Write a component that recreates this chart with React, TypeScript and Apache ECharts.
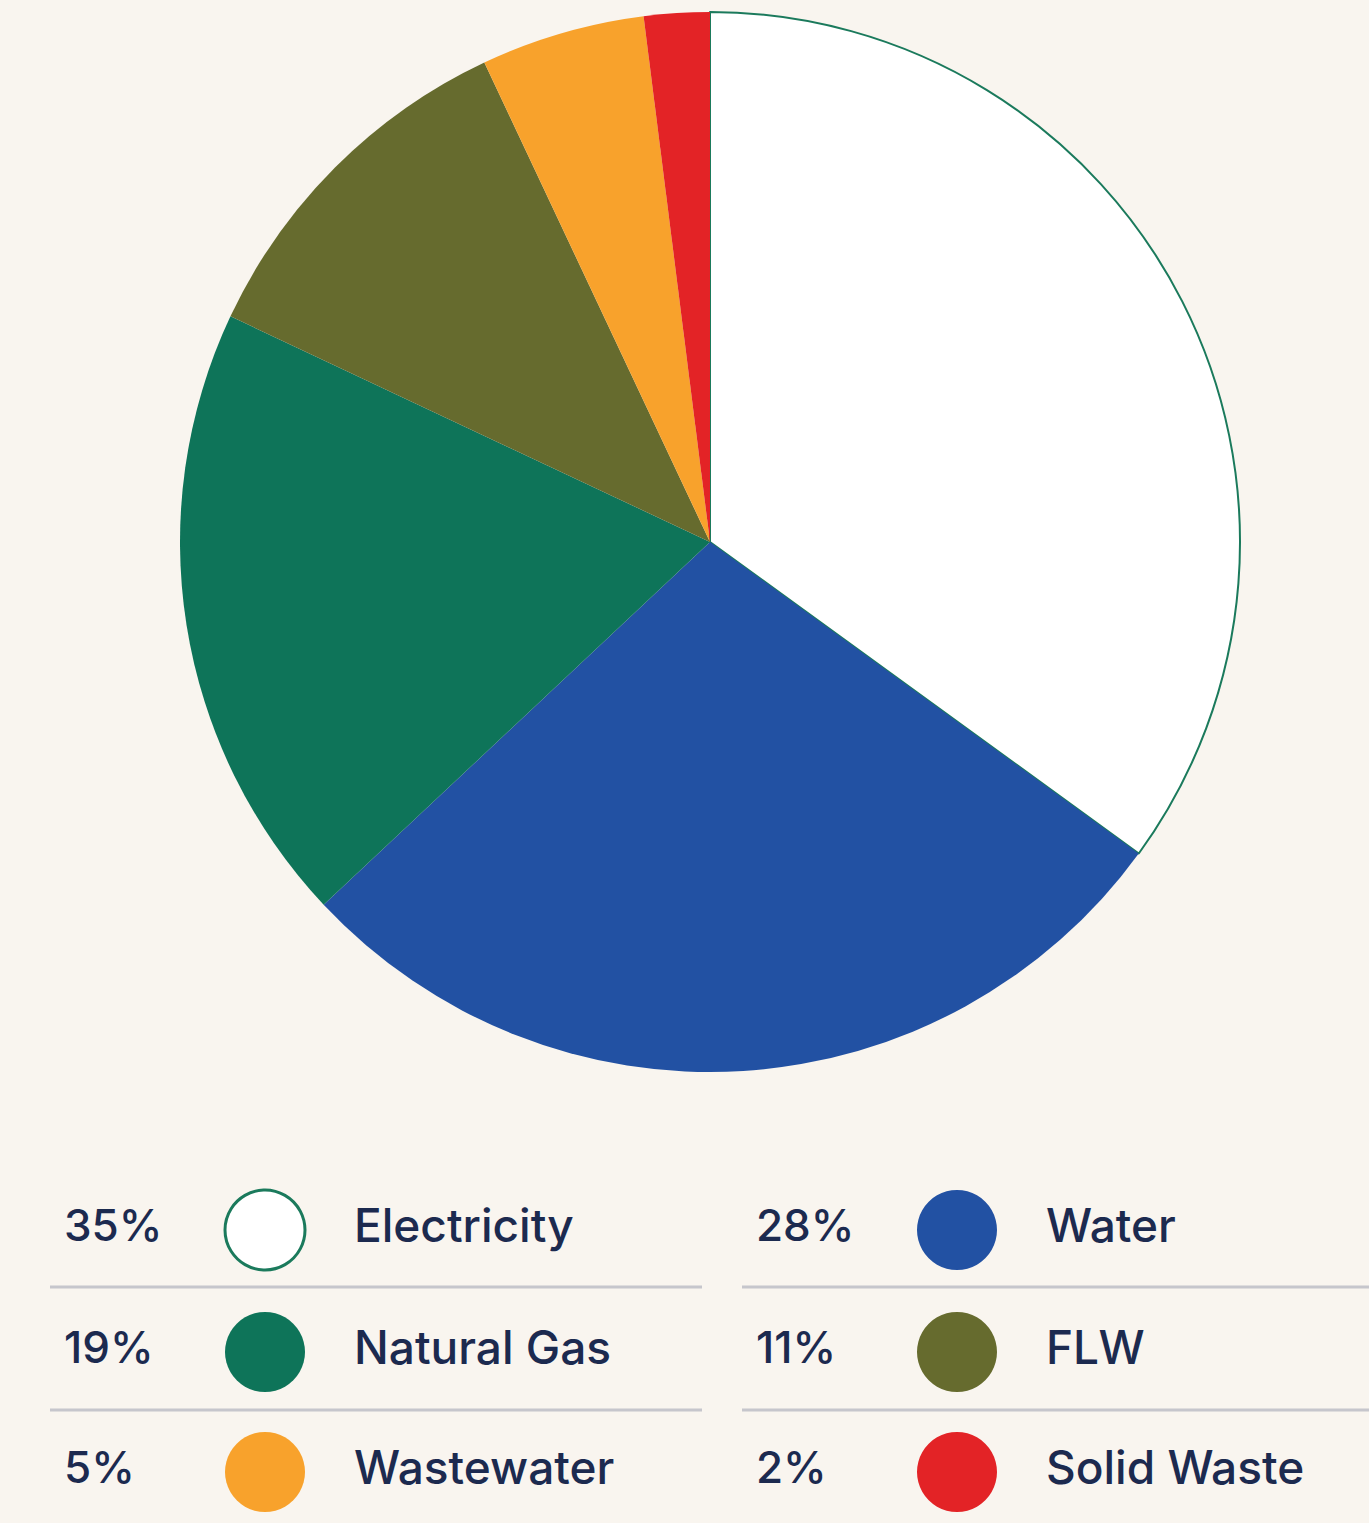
import React, { useEffect, useRef } from "react";
import * as echarts from "echarts";

const categories = ["Electricity", "Water", "Natural Gas", "FLW", "Wastewater", "Solid Waste"];
const values = [35, 28, 19, 11, 5, 2];
const percentLabels = ["35%", "28%", "19%", "11%", "5%", "2%"];
const colors = ["#ffffff", "#2251a3", "#0e7459", "#666b2e", "#f8a22c", "#e32326"];

const BG = "#f9f5ef";
const TEXT = "#1c2a4f";
const FONT = "Inter, 'Noto Sans', sans-serif";

export default function App() {
  const ref = useRef<HTMLDivElement>(null);
  useEffect(() => {
    document.body.style.margin = "0";
    const chart = echarts.init(ref.current!, null, { renderer: "svg" });

    const colX = [0, 692];
    const rowY = [1228, 1350, 1470];
    const graphic: any[] = [];
    categories.forEach((name, i) => {
      const col = i % 2;
      const row = Math.floor(i / 2);
      const x0 = colX[col];
      const y = rowY[row];
      graphic.push({
        type: "text",
        left: 64 + x0,
        top: y - 25,
        style: { text: percentLabels[i], fill: TEXT, font: `500 44px ${FONT}` },
      });
      graphic.push({
        type: "circle",
        shape: { cx: 265 + x0, cy: y + 2, r: 40 },
        style: {
          fill: colors[i],
          stroke: i === 0 ? "#1b7a5c" : null,
          lineWidth: i === 0 ? 3 : 0,
        },
      });
      graphic.push({
        type: "text",
        left: 354 + x0,
        top: y - 26,
        style: { text: name, fill: TEXT, font: `500 46px ${FONT}` },
      });
    });
    [1287, 1410].forEach((ly) => {
      graphic.push({ type: "line", shape: { x1: 50, y1: ly, x2: 702, y2: ly }, style: { stroke: "#c6c6cc", lineWidth: 3 } });
      graphic.push({ type: "line", shape: { x1: 742, y1: ly, x2: 1369, y2: ly }, style: { stroke: "#c6c6cc", lineWidth: 3 } });
    });

    chart.setOption({
      animation: false,
      backgroundColor: BG,
      series: [
        {
          type: "pie",
          center: [710, 542],
          radius: [0, 530],
          startAngle: 90,
          clockwise: true,
          label: { show: false },
          labelLine: { show: false },
          emphasis: { disabled: true },
          data: categories.map((name, i) => ({
            name,
            value: values[i],
            itemStyle: {
              color: colors[i],
              borderColor: i === 0 ? "#1b7a5c" : colors[i],
              borderWidth: i === 0 ? 2 : 0,
            },
          })),
        },
      ],
      graphic,
    });
    return () => chart.dispose();
  }, []);
  return <div ref={ref} style={{ width: 1369, height: 1523 }} />;
}
